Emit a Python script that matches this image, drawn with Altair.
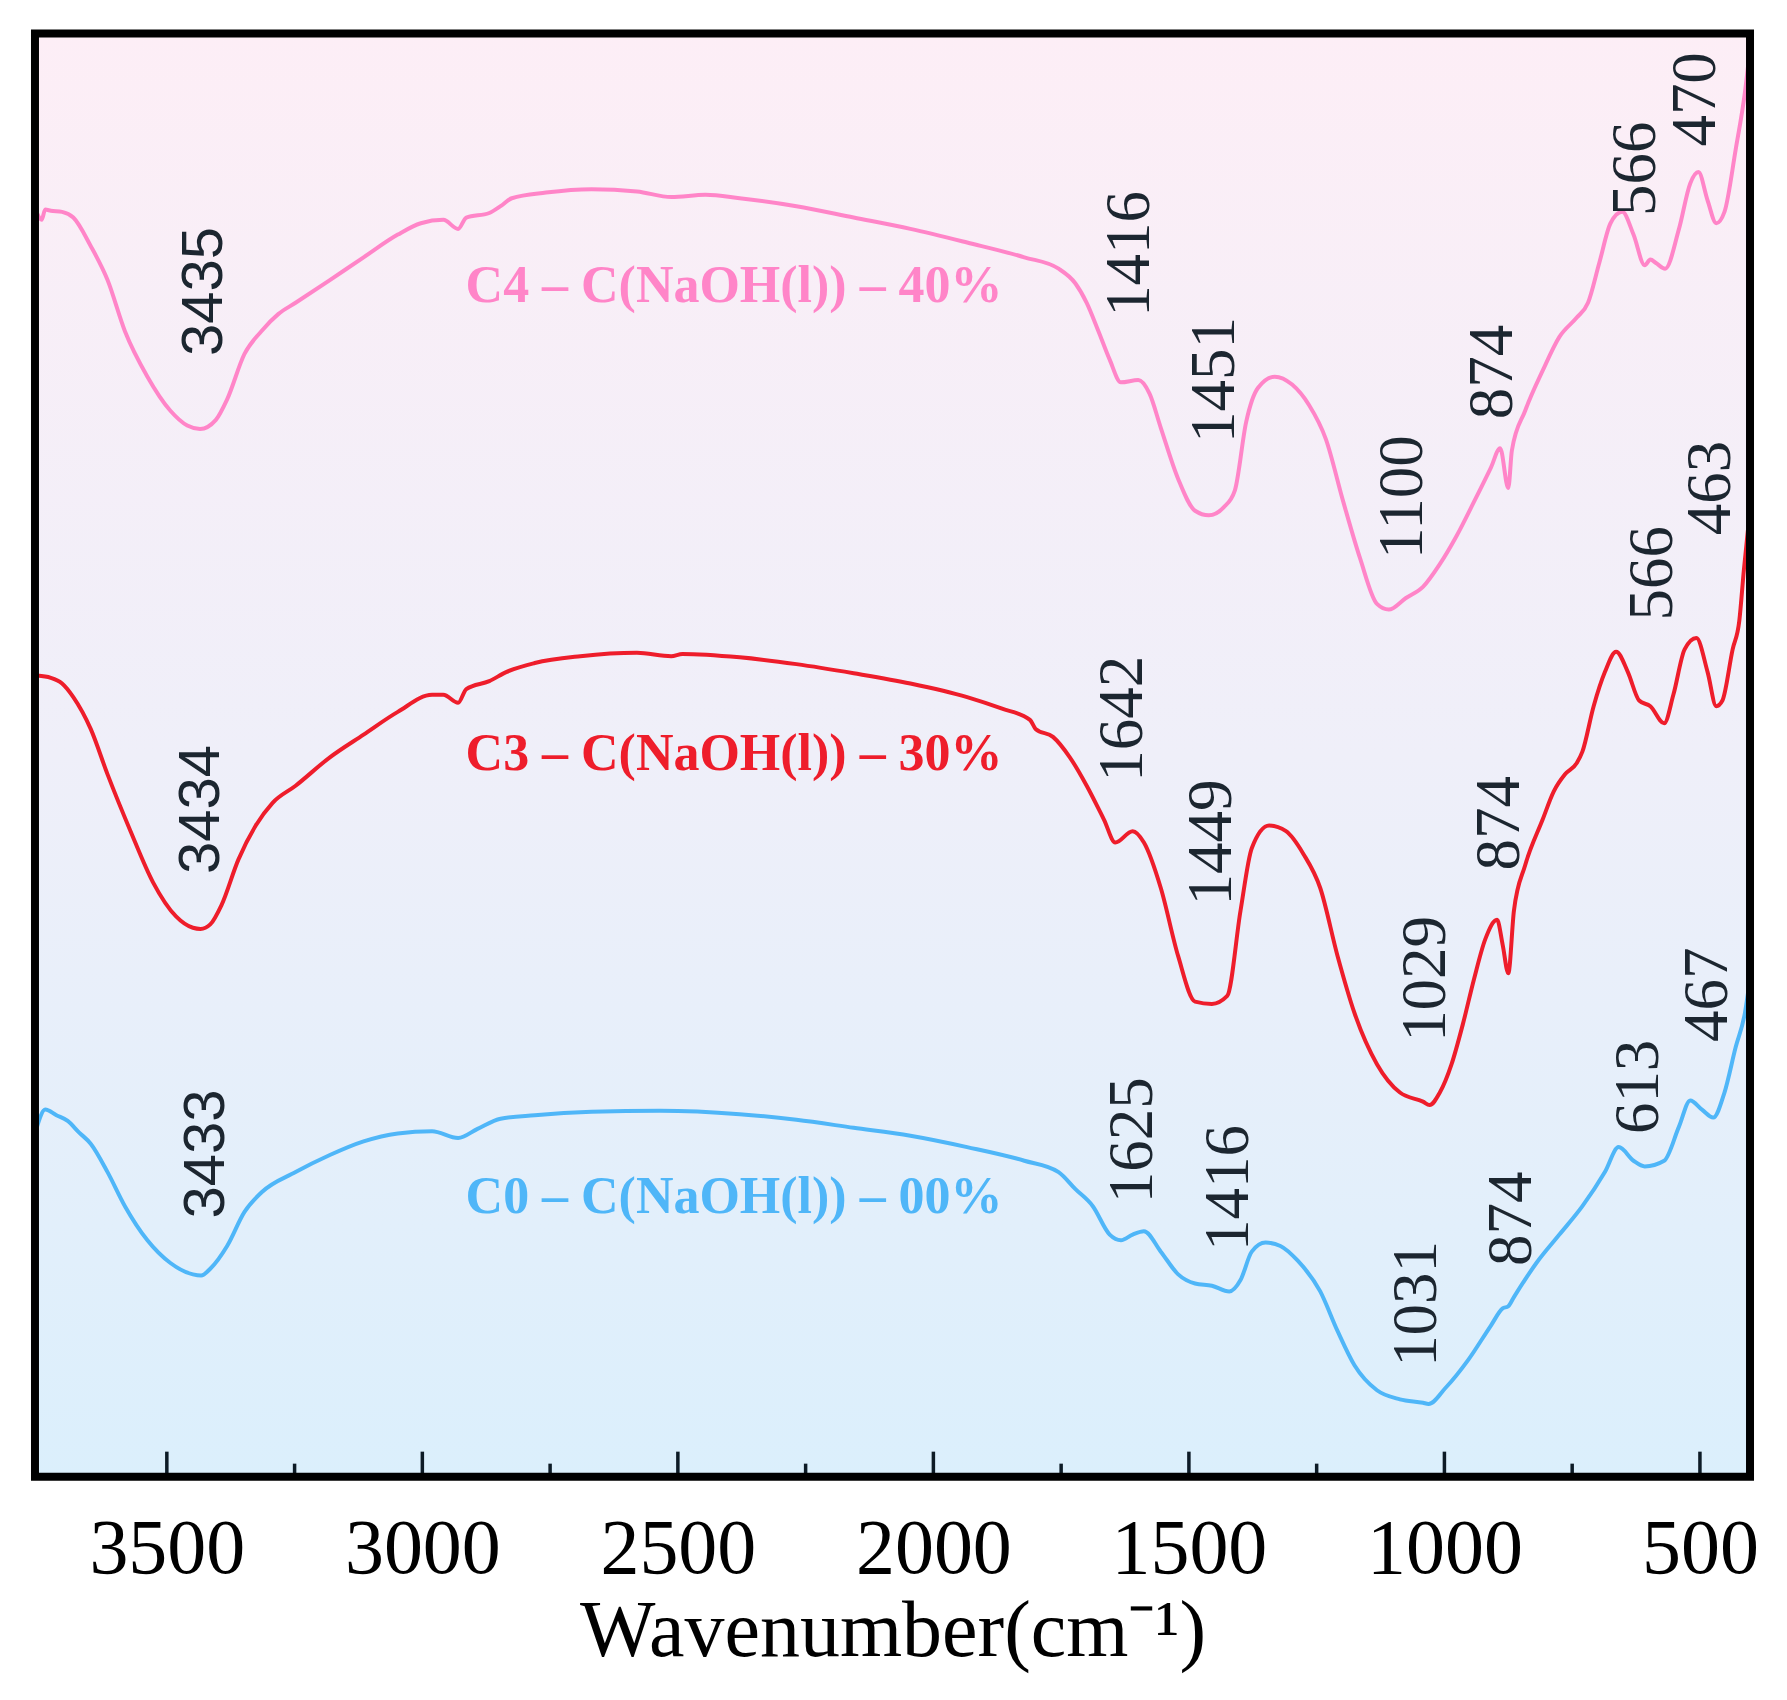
import altair as alt
import pandas as pd

# ---------------- data ----------------
series_names = ["C4 – C(NaOH(l)) – 40%", "C3 – C(NaOH(l)) – 30%", "C0 – C(NaOH(l)) – 00%"]
series_colors = ["#FF85C8", "#EE1D2B", "#4FB6F8"]

c4_wn = [3754, 3745, 3738, 3727, 3705, 3683, 3649, 3616, 3582, 3538, 3493, 3460, 3435, 3404, 3382, 3348,
         3315, 3282, 3248, 3181, 3115, 3048, 3003, 2959, 2930, 2914, 2869, 2847, 2825, 2758, 2669, 2580,
         2513, 2446, 2379, 2268, 2156, 2045, 1934, 1822, 1755, 1722, 1700, 1677, 1655, 1633, 1599, 1577,
         1555, 1521, 1488, 1461, 1432, 1410, 1388, 1365, 1332, 1298, 1265, 1232, 1198, 1165, 1132, 1109,
         1076, 1042, 1009, 976, 942, 909, 891, 875, 868, 842, 808, 775, 741, 719, 697, 675, 652, 630, 608,
         597, 586, 568, 541, 519, 503, 485, 468, 452, 430, 412, 400]
c4_t = [1112, 1106, 1115, 1114, 1113, 1108, 1083, 1053, 1008, 968, 938, 925, 922, 930, 948, 988,
        1008, 1023, 1033, 1053, 1073, 1093, 1103, 1106, 1098, 1108, 1112, 1118, 1125, 1130, 1133, 1131,
        1126, 1128, 1125, 1118, 1108, 1098, 1086, 1073, 1063, 1050, 1033, 1008, 983, 963, 965, 953,
        923, 878, 850, 846, 853, 868, 928, 958, 968, 961, 943, 913, 858, 808, 768, 763,
        773, 783, 803, 828, 858, 888, 905, 870, 903, 938, 973, 1003, 1020, 1033, 1068, 1103, 1113, 1093, 1066,
        1071, 1068, 1063, 1098, 1138, 1148, 1123, 1103, 1113, 1168, 1218, 1265]

c3_wn = [3754, 3727, 3705, 3683, 3649, 3616, 3571, 3527, 3482, 3449, 3434, 3415, 3393, 3360, 3326, 3293,
         3248, 3181, 3115, 3048, 2981, 2959, 2930, 2914, 2869, 2836, 2780, 2691, 2580, 2513, 2491, 2379,
         2268, 2156, 2045, 1934, 1867, 1811, 1800, 1766, 1733, 1700, 1666, 1644, 1610, 1588, 1555, 1521,
         1488, 1455, 1425, 1399, 1377, 1343, 1310, 1276, 1243, 1209, 1176, 1132, 1087, 1042, 1029, 1009,
         986, 964, 942, 920, 897, 886, 875, 864, 842, 808, 786, 764, 741, 730, 708, 686, 664, 641, 619,
         597, 570, 552, 530, 507, 485, 468, 456, 436, 423, 414, 400]
c3_t = [705, 703, 698, 686, 658, 618, 568, 523, 493, 483, 482, 486, 503, 543, 573, 593,
        608, 633, 653, 673, 688, 688, 681, 693, 700, 708, 716, 722, 725, 722, 724, 721,
        715, 707, 698, 686, 676, 666, 658, 651, 633, 608, 578, 558, 568, 558, 518, 458,
        418, 416, 423, 498, 553, 573, 568, 548, 518, 458, 408, 363, 338, 330, 327, 338,
        363, 398, 438, 473, 490, 468, 443, 498, 538, 578, 603, 618, 628, 638, 678, 708, 726, 708, 683,
        678, 663, 688, 728, 738, 708, 678, 683, 728, 753, 798, 860]

c0_wn = [3754, 3738, 3716, 3694, 3672, 3649, 3616, 3582, 3538, 3493, 3449, 3433, 3415, 3382, 3348, 3315,
         3248, 3181, 3115, 3048, 2981, 2930, 2892, 2847, 2780, 2669, 2535, 2379, 2268, 2156, 2045, 1934,
         1822, 1755, 1722, 1688, 1655, 1633, 1610, 1588, 1555, 1521, 1488, 1455, 1421, 1399, 1377, 1350,
         1321, 1287, 1243, 1209, 1176, 1132, 1087, 1042, 1031, 998, 953, 909, 886, 875, 864, 820, 775,
         730, 686, 659, 630, 608, 570, 541, 519, 496, 474, 452, 430, 412, 400]
c0_t = [308, 323, 318, 313, 303, 293, 268, 238, 208, 188, 178, 177, 183, 203, 233, 250,
        268, 283, 295, 302, 304, 298, 306, 315, 318, 321, 322, 319, 314, 307, 300, 290,
        278, 268, 253, 238, 213, 208, 213, 216, 198, 178, 170, 168, 163, 173, 198, 206,
        203, 190, 163, 128, 98, 76, 68, 65, 64, 78, 103, 133, 148, 150, 158, 188, 213,
        238, 268, 290, 278, 273, 278, 308, 331, 323, 316, 338, 378, 408, 445]

# peak annotations: text, wavenumber position, transmittance position
ann_text = ["3435", "1416", "1451", "1100", "874", "566", "470",
            "3434", "1642", "1449", "1029", "874", "566", "463",
            "3433", "1625", "1416", "1031", "874", "613", "467"]
ann_wn = [3426, 1615, 1448, 1082, 904, 625, 507,
          3431, 1628, 1454, 1036, 891, 592, 478,
          3422, 1610, 1421, 1053, 868, 619, 485]
ann_t = [1043, 1076, 965, 862, 972, 1151, 1212,
         587, 667, 558, 438, 575, 795, 870,
         284, 296, 254, 152, 227, 343, 424]

# series label positions
label_wn = [2390, 2390, 2390]
label_t = [1048, 636, 246]

major_ticks = [3500, 3000, 2500, 2000, 1500, 1000, 500]
minor_ticks = [3250, 2750, 2250, 1750, 1250, 750]

# ---------------- build tables ----------------
rows = []
for name, wns, ts in zip(series_names, [c4_wn, c3_wn, c0_wn], [c4_t, c3_t, c0_t]):
    for w, t in zip(wns, ts):
        rows.append({"wn": w, "T": t, "series": name})
spec_df = pd.DataFrame(rows)

ann_df = pd.DataFrame({"text": ann_text, "wn": ann_wn, "T": ann_t})
ann_sans = ann_df[ann_df["text"].str.startswith("34")]
ann_serif = ann_df[~ann_df["text"].str.startswith("34")]

lab_df = pd.DataFrame({"series": series_names, "wn": label_wn, "T": label_t})

W, H = 1716, 1444
xscale = alt.Scale(domain=[402, 3758], reverse=True, nice=False, zero=False)
yscale = alt.Scale(domain=[0, 1270], nice=False, zero=False)
cscale = alt.Scale(domain=series_names, range=series_colors)

xaxis = alt.Axis(values=major_ticks, format="d", title="Wavenumber(cm⁻¹)",
                 labelFont="Liberation Serif", labelFontSize=78, labelColor="black",
                 titleFont="Liberation Serif", titleFontSize=80, titleFontWeight="normal",
                 titleColor="black", ticks=False, domain=False, grid=False,
                 labelPadding=34, titlePadding=4, labelFlush=False, labelOverlap=False)

one = pd.DataFrame({"a": [0]})

bg = alt.Chart(one).mark_rect(
    color={"gradient": "linear",
           "stops": [{"offset": 0, "color": "#FDEEF6"},
                     {"offset": 0.5, "color": "#EFEFF9"},
                     {"offset": 1, "color": "#DBEFFC"}],
           "x1": 0, "x2": 0, "y1": 0, "y2": 1}
).encode(x=alt.value(0), x2=alt.value(W), y=alt.value(0), y2=alt.value(H))

lines = alt.Chart(spec_df).mark_line(strokeWidth=4, clip=True, interpolate="monotone").encode(
    x=alt.X("wn:Q", scale=xscale, axis=xaxis),
    y=alt.Y("T:Q", scale=yscale, axis=None),
    color=alt.Color("series:N", scale=cscale, legend=None),
    detail="series:N",
)

ann1 = alt.Chart(ann_serif).mark_text(font="Liberation Serif", fontSize=63, angle=270,
                                      align="center", baseline="middle", color="#1c2630").encode(
    x=alt.X("wn:Q", scale=xscale), y=alt.Y("T:Q", scale=yscale), text="text:N")
ann2 = alt.Chart(ann_sans).mark_text(font="Liberation Sans", fontSize=58, angle=270,
                                     align="center", baseline="middle", color="#1c2630").encode(
    x=alt.X("wn:Q", scale=xscale), y=alt.Y("T:Q", scale=yscale), text="text:N")

labels = alt.Chart(lab_df).mark_text(font="Liberation Serif", fontSize=52, fontWeight="bold",
                                     align="center", baseline="middle").encode(
    x=alt.X("wn:Q", scale=xscale), y=alt.Y("T:Q", scale=yscale),
    text="series:N", color=alt.Color("series:N", scale=cscale, legend=None))

major = alt.Chart(pd.DataFrame({"wn": major_ticks})).mark_rule(color="#0d1b26", strokeWidth=3.5).encode(
    x=alt.X("wn:Q", scale=xscale), y=alt.value(H), y2=alt.value(H - 25))
minor = alt.Chart(pd.DataFrame({"wn": minor_ticks})).mark_rule(color="#0d1b26", strokeWidth=3.5).encode(
    x=alt.X("wn:Q", scale=xscale), y=alt.value(H), y2=alt.value(H - 13))

frame = alt.Chart(one).mark_rect(fillOpacity=0, stroke="black", strokeWidth=8).encode(
    x=alt.value(0), x2=alt.value(W), y=alt.value(0), y2=alt.value(H))

chart = alt.layer(bg, lines, ann1, ann2, labels, major, minor, frame).properties(
    width=W, height=H,
    padding={"left": 23, "top": 21, "right": 20, "bottom": 5},
).configure_view(strokeWidth=0)

chart.save("out.html", embed_options={"renderer": "svg", "actions": False})
